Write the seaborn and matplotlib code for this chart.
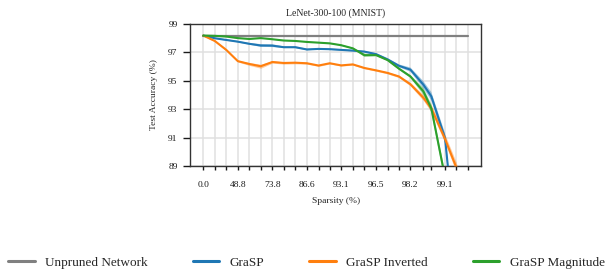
import matplotlib
matplotlib.use("Agg")
import matplotlib.pyplot as plt
import numpy as np
import pandas as pd
import seaborn as sns
from matplotlib.ticker import FixedLocator, FixedFormatter, NullLocator

# Уровни разреженности (%) - точки, в которых сняты кривые.
SPARSITY = [0.0, 20.0, 36.0, 48.8, 59.0, 67.2, 73.8, 79.0, 83.2, 86.6, 89.3, 91.4,
            93.1, 94.5, 95.6, 96.5, 97.2, 97.75, 98.2, 98.6, 98.8, 99.08, 99.26, 99.41]
TICK_LABELS = ["0.0", "", "", "48.8", "", "", "73.8", "", "", "86.6", "", "",
               "93.1", "", "", "96.5", "", "", "98.2", "", "", "99.1", "", ""]

UNPRUNED_ACC = 98.17

GRASP = [98.18, 97.99, 97.87, 97.75, 97.6, 97.48, 97.47, 97.36, 97.36, 97.2, 97.24, 97.22,
         97.17, 97.12, 97.05, 96.87, 96.5, 96.05, 95.78, 94.72, 93.9, 90.95, 83.0, 75.0]
GRASP_STD = [0.02, 0.04, 0.05, 0.05, 0.06, 0.1, 0.1, 0.06, 0.06, 0.06, 0.05, 0.05,
             0.05, 0.05, 0.05, 0.06, 0.08, 0.1, 0.15, 0.25, 0.3, 0.35, 0.5, 0.5]

GRASP_INV = [98.18, 97.8, 97.17, 96.38, 96.18, 96.02, 96.32, 96.25, 96.27, 96.23, 96.07, 96.23,
             96.08, 96.15, 95.9, 95.73, 95.55, 95.3, 94.75, 93.8, 93.05, 90.9, 88.9, 85.5]
GRASP_INV_STD = [0.02, 0.05, 0.06, 0.06, 0.1, 0.14, 0.08, 0.08, 0.08, 0.06, 0.06, 0.05,
                 0.05, 0.05, 0.06, 0.06, 0.07, 0.08, 0.12, 0.2, 0.25, 0.3, 0.35, 0.4]

GRASP_MAG = [98.18, 98.16, 98.11, 98.0, 97.94, 98.0, 97.92, 97.83, 97.8, 97.73, 97.68, 97.63,
             97.5, 97.28, 96.8, 96.8, 96.45, 95.85, 95.3, 94.25, 93.05, 88.2, 80.0, 70.0]
GRASP_MAG_STD = [0.02, 0.03, 0.03, 0.03, 0.03, 0.03, 0.03, 0.03, 0.03, 0.03, 0.03, 0.03,
                 0.04, 0.05, 0.12, 0.06, 0.06, 0.08, 0.1, 0.25, 0.3, 0.35, 0.5, 0.5]

COLORS = {"GraSP": "#1f77b4", "GraSP Inverted": "#ff7f0e", "GraSP Magnitude": "#2ca02c"}

sns.set_style("whitegrid", {"axes.edgecolor": "0.2", "grid.color": "0.88"})
plt.rcParams["font.family"] = ["Liberation Serif", "DejaVu Serif"]

# Ось X - доля оставшихся весов в лог-шкале, подписи - разреженность.
density = 100.0 - np.array(SPARSITY)
frames = []
for name, mean in [("GraSP", GRASP), ("GraSP Inverted", GRASP_INV),
                   ("GraSP Magnitude", GRASP_MAG)]:
    frames.append(pd.DataFrame({"density": density, "acc": mean, "method": name}))
df = pd.concat(frames, ignore_index=True)

fig = plt.figure(figsize=(6.13, 2.78), dpi=100)
ax = fig.add_axes([0.31, 0.403, 0.475, 0.511])

ax.plot(density, [UNPRUNED_ACC] * len(density), color="#808080", lw=1.6,
        label="Unpruned Network", zorder=3)
sns.lineplot(data=df, x="density", y="acc", hue="method", palette=COLORS,
             lw=1.5, ax=ax, zorder=4, legend=False)
for name, mean, std in [("GraSP", GRASP, GRASP_STD),
                        ("GraSP Inverted", GRASP_INV, GRASP_INV_STD),
                        ("GraSP Magnitude", GRASP_MAG, GRASP_MAG_STD)]:
    m, s = np.array(mean), np.array(std)
    ax.fill_between(density, m - s, m + s, color=COLORS[name], alpha=0.4, lw=0,
                    zorder=3)

ax.set_xscale("log")
ax.invert_xaxis()
ax.xaxis.set_major_locator(FixedLocator(density))
ax.xaxis.set_major_formatter(FixedFormatter(TICK_LABELS))
ax.xaxis.set_minor_locator(NullLocator())
ax.set_ylim(89, 99)
ax.set_yticks([89, 91, 93, 95, 97, 99])

ax.grid(True, which="major", lw=1.1)
for sp in ax.spines.values():
    sp.set_linewidth(1.0)
ax.tick_params(axis="x", bottom=True, length=3, width=1.0, pad=7.5, labelsize=6.8,
               colors="0.1")
ax.tick_params(axis="y", left=True, length=5, width=1.0, pad=4, labelsize=6.8,
               colors="0.1")
ax.set_xlabel("Sparsity (%)", fontsize=6.8, labelpad=6)
ax.set_ylabel("Test Accuracy (%)", fontsize=6.8, labelpad=7)
ax.set_title("LeNet-300-100 (MNIST)", fontsize=7, pad=6)

handles = [plt.Line2D([], [], color="#808080", lw=2.2)]
handles += [plt.Line2D([], [], color=COLORS[n], lw=2.2) for n in COLORS]
labels = ["Unpruned Network"] + list(COLORS)
fig.legend(handles, labels, loc="lower center", bbox_to_anchor=(0.5, -0.01), ncol=4,
           frameon=False, fontsize=9.5, handlelength=2.0, columnspacing=3.4)

fig.savefig("out.png", dpi=100)
